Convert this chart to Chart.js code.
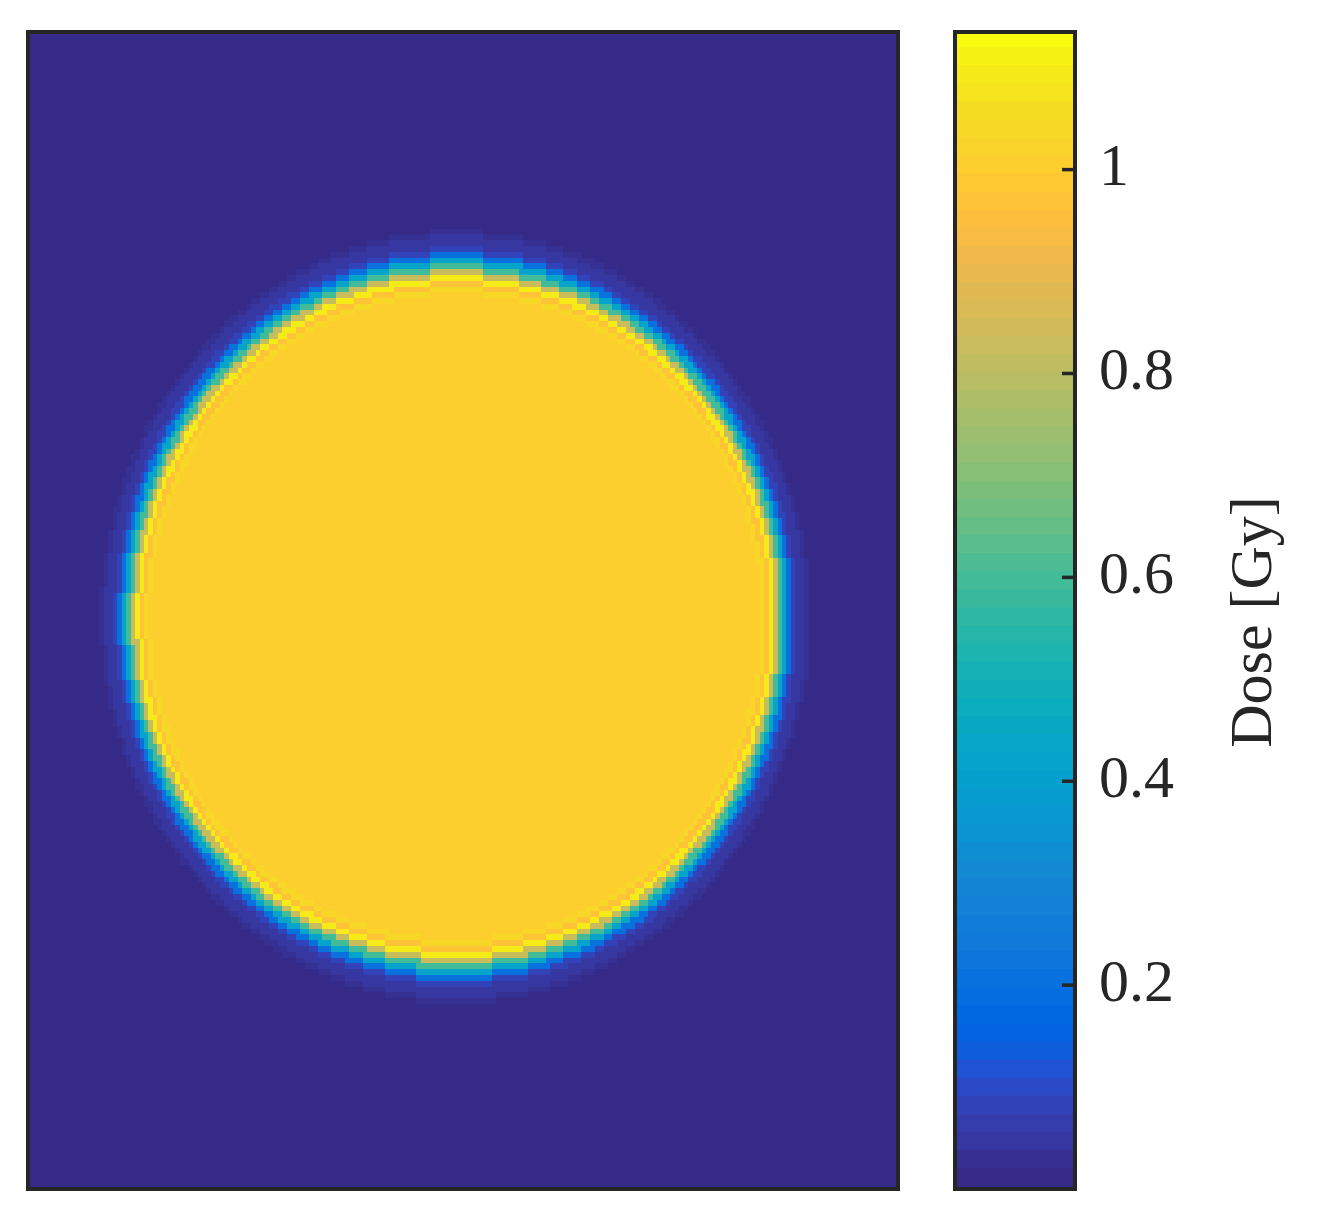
<!DOCTYPE html>
<html>
<head>
<meta charset="utf-8">
<script src="https://cdn.jsdelivr.net/npm/chart.js@4.4.1/dist/chart.umd.min.js"></script>
<style>
  html, body { margin: 0; padding: 0; background: #fff; }
  #wrap { position: relative; width: 1317px; height: 1221px; }
  #map { position: absolute; left: 0; top: 0; }
  #cbar { position: absolute; left: 930px; top: 0; }
</style>
</head>
<body>
<div id="wrap">
  <canvas id="map" width="930" height="1221"></canvas>
  <canvas id="cbar" width="387" height="1221"></canvas>
</div>
<script>
// dose grid size (cells)
var nCols = 195;
var nRows = 200;

// field edge, in cell units
var fieldCentre = [95.9, 101.1];
var fieldRadius = [73.1, 60.3];

// dose across the field edge, by cells from the edge (+ = outside)
var edgeOffset = [-4, -3, -2, -1, 0, 1, 2, 3, 4, 5, 6];
var edgeDose = [1.03, 0.96, 1.09, 0.83, 0.6, 0.42, 0.2, 0.08, 0.05, 0.045, 0.03];
var insideDose = 1.0;
var outsideDose = 0;

// colorbar
var doseMax = 1.135;
var cbarTicks = [0.2, 0.4, 0.6, 0.8, 1];

var parula = [
  [0.2081,0.1663,0.5292],[0.2116,0.1898,0.5777],[0.2123,0.2138,0.6270],[0.2081,0.2386,0.6771],
  [0.1959,0.2645,0.7279],[0.1707,0.2919,0.7792],[0.1253,0.3242,0.8303],[0.0591,0.3598,0.8683],
  [0.0117,0.3875,0.8820],[0.0060,0.4086,0.8828],[0.0165,0.4266,0.8786],[0.0329,0.4430,0.8720],
  [0.0498,0.4586,0.8641],[0.0629,0.4737,0.8554],[0.0723,0.4887,0.8467],[0.0779,0.5040,0.8384],
  [0.0793,0.5200,0.8312],[0.0749,0.5375,0.8263],[0.0641,0.5570,0.8240],[0.0488,0.5772,0.8228],
  [0.0343,0.5966,0.8199],[0.0265,0.6137,0.8135],[0.0239,0.6287,0.8038],[0.0231,0.6418,0.7913],
  [0.0228,0.6535,0.7768],[0.0267,0.6642,0.7607],[0.0384,0.6743,0.7436],[0.0590,0.6838,0.7254],
  [0.0843,0.6928,0.7062],[0.1133,0.7015,0.6859],[0.1453,0.7098,0.6646],[0.1801,0.7177,0.6424],
  [0.2178,0.7250,0.6193],[0.2586,0.7317,0.5954],[0.3022,0.7376,0.5712],[0.3482,0.7424,0.5473],
  [0.3953,0.7459,0.5244],[0.4420,0.7481,0.5033],[0.4871,0.7491,0.4840],[0.5300,0.7491,0.4661],
  [0.5709,0.7485,0.4494],[0.6099,0.7473,0.4337],[0.6473,0.7456,0.4188],[0.6834,0.7435,0.4044],
  [0.7184,0.7411,0.3905],[0.7525,0.7384,0.3768],[0.7858,0.7356,0.3633],[0.8185,0.7327,0.3498],
  [0.8507,0.7299,0.3360],[0.8824,0.7274,0.3217],[0.9139,0.7258,0.3063],[0.9450,0.7261,0.2886],
  [0.9739,0.7314,0.2666],[0.9938,0.7455,0.2403],[0.9990,0.7653,0.2164],[0.9955,0.7861,0.1967],
  [0.9880,0.8066,0.1794],[0.9789,0.8271,0.1633],[0.9697,0.8481,0.1475],[0.9626,0.8705,0.1309],
  [0.9589,0.8949,0.1132],[0.9598,0.9218,0.0948],[0.9661,0.9514,0.0755],[0.9763,0.9831,0.0538]
];
var frameColor = '#262626';
var serif = "'Liberation Serif', 'Times New Roman', serif";

function rgb(c) {
  return 'rgb(' + Math.round(c[0]*255) + ',' + Math.round(c[1]*255) + ',' + Math.round(c[2]*255) + ')';
}
function colorFor(v) {
  var k = Math.floor(v / doseMax * parula.length);
  k = Math.max(0, Math.min(parula.length - 1, k));
  return rgb(parula[k]);
}

// dose of one cell, looked up from the edge profile
function doseAt(i, j) {
  var dx = i + 0.5 - fieldCentre[0];
  var dy = j + 0.5 - fieldCentre[1];
  var rho = Math.sqrt(Math.pow(dx / fieldRadius[0], 2) + Math.pow(dy / fieldRadius[1], 2));
  if (rho === 0) return insideDose;
  var d = Math.round(Math.sqrt(dx*dx + dy*dy) * (1 - 1 / rho));
  if (d < edgeOffset[0]) return insideDose;
  if (d > edgeOffset[edgeOffset.length - 1]) return outsideDose;
  return edgeDose[edgeOffset.indexOf(d)];
}

var doseGrid = [];
for (var j = 0; j < nRows; j++) {
  var row = [];
  for (var i = 0; i < nCols; i++) row.push(doseAt(i, j));
  doseGrid.push(row);
}

var heatmap = {
  id: 'heatmap',
  beforeDatasetsDraw: function (chart) {
    var ctx = chart.ctx, xs = chart.scales.x, ys = chart.scales.y;
    ctx.save();
    for (var j = 0; j < nRows; j++) {
      var y0 = Math.round(ys.getPixelForValue(j));
      var y1 = Math.round(ys.getPixelForValue(j + 1));
      for (var i = 0; i < nCols; i++) {
        var x0 = Math.round(xs.getPixelForValue(i));
        var x1 = Math.round(xs.getPixelForValue(i + 1));
        ctx.fillStyle = colorFor(doseGrid[j][i]);
        ctx.fillRect(x0, Math.min(y0, y1), x1 - x0, Math.abs(y1 - y0));
      }
    }
    ctx.restore();
  },
  afterDraw: function (chart) {
    var a = chart.chartArea, ctx = chart.ctx;
    ctx.save();
    ctx.strokeStyle = frameColor;
    ctx.lineWidth = 4;
    ctx.strokeRect(a.left, a.top, a.right - a.left, a.bottom - a.top);
    ctx.restore();
  }
};

new Chart(document.getElementById('map'), {
  type: 'scatter',
  data: { datasets: [{ data: [] }] },
  options: {
    responsive: false,
    animation: false,
    devicePixelRatio: 1,
    layout: { padding: { left: 28, top: 32, right: 32, bottom: 32 } },
    plugins: { legend: { display: false }, tooltip: { enabled: false } },
    scales: {
      x: { type: 'linear', min: 0, max: nCols, display: false },
      y: { type: 'linear', min: 0, max: nRows, reverse: true, display: false }
    }
  },
  plugins: [heatmap]
});

// colorbar: one floating bar per colormap step
var step = doseMax / parula.length;
var cbarSets = parula.map(function (c, k) {
  return {
    data: [[k * step, (k + 1.15) * step]],
    backgroundColor: rgb(c),
    borderWidth: 0,
    barPercentage: 1,
    categoryPercentage: 1,
    grouped: false
  };
});

var cbarFrame = {
  id: 'cbarFrame',
  afterDraw: function (chart) {
    var a = chart.chartArea, ctx = chart.ctx, ys = chart.scales.y;
    ctx.save();
    ctx.strokeStyle = frameColor;
    ctx.lineWidth = 4;
    ctx.strokeRect(a.left, a.top, a.right - a.left, a.bottom - a.top);
    ctx.lineWidth = 3.5;
    cbarTicks.forEach(function (v) {
      var y = ys.getPixelForValue(v);
      ctx.beginPath();
      ctx.moveTo(a.right - 13, y);
      ctx.lineTo(a.right, y);
      ctx.stroke();
    });
    ctx.fillStyle = frameColor;
    ctx.font = '60px ' + serif;
    ctx.textAlign = 'center';
    ctx.textBaseline = 'middle';
    ctx.translate(325, 622);
    ctx.rotate(-Math.PI / 2);
    ctx.fillText('Dose [Gy]', 0, 0);
    ctx.restore();
  }
};

new Chart(document.getElementById('cbar'), {
  type: 'bar',
  data: { labels: [''], datasets: cbarSets },
  options: {
    responsive: false,
    animation: false,
    devicePixelRatio: 1,
    layout: { padding: { left: 25, top: 32, right: 0, bottom: 32 } },
    plugins: { legend: { display: false }, tooltip: { enabled: false } },
    scales: {
      x: { display: false },
      y: {
        position: 'right',
        min: 0,
        max: doseMax,
        afterBuildTicks: function (s) {
          s.ticks = cbarTicks.map(function (v) { return { value: v }; });
        },
        afterFit: function (s) {
          s.width = 242;
          s.paddingTop = 0;
          s.paddingBottom = 0;
        },
        grid: { display: false, drawTicks: false },
        border: { display: false },
        ticks: {
          padding: 24,
          color: frameColor,
          font: { family: serif, size: 60 },
          callback: function (v) { return String(v); }
        }
      }
    }
  },
  plugins: [cbarFrame]
});
</script>
</body>
</html>
